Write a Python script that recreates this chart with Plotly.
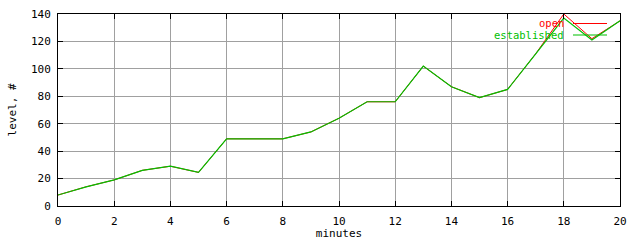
import plotly.graph_objects as go

minutes = list(range(0, 21))
open_level = [8, 14, 19, 26, 29, 24.5, 49, 49, 49, 54, 64, 76, 76, 102, 87, 79, 85, 111, 140, 122, 135]
established_level = [8, 14, 19, 26, 29, 24.5, 49, 49, 49, 54, 64, 76, 76, 102, 87, 79, 85, 111, 137, 121, 135]
series_names = ["open", "established"]
series_colors = ["#ff0000", "#00c000"]
series_widths = [1, 1.2]

FONT = "DejaVu Sans Mono"
W, H = 640, 240
ML, MR, MT, MB = 58, 20, 14, 34
PW, PH = W - ML - MR, H - MT - MB

fig = go.Figure()
for name, vals, col, lw in zip(series_names, [open_level, established_level], series_colors, series_widths):
    fig.add_trace(go.Scatter(x=minutes, y=vals, mode="lines", name=name,
                             line=dict(color=col, width=lw), showlegend=False))

axis_common = dict(
    showline=True, linecolor="black", linewidth=1, mirror="ticks",
    ticks="inside", ticklen=5, tickcolor="black", tickwidth=1,
    showgrid=True, gridcolor="#a0a0a0", gridwidth=1, zeroline=False,
    tickfont=dict(family=FONT, size=11, color="black"), automargin=False,
)
fig.update_xaxes(range=[0, 20], dtick=2, tick0=0, ticklabelstandoff=5,
                 title=dict(text="minutes", font=dict(family=FONT, size=11, color="black"), standoff=6),
                 **axis_common)
fig.update_yaxes(range=[0, 140], dtick=20, tick0=0, ticklabelstandoff=4,
                 title=dict(text="level, #", font=dict(family=FONT, size=11, color="black"), standoff=12),
                 **axis_common)

def px(x):
    return (x - ML) / PW

def py(y):
    return (H - MB - y) / PH

legend_rows = [23, 34.5]
for name, col, yy in zip(series_names, series_colors, legend_rows):
    fig.add_annotation(x=px(565), y=py(yy), xref="paper", yref="paper", text=name,
                       showarrow=False, xanchor="right", yanchor="middle", borderpad=0,
                       font=dict(family=FONT, size=10.5, color=col))
    fig.add_shape(type="line", xref="paper", yref="paper", layer="above",
                  x0=px(573), x1=px(607), y0=py(yy + 0.5), y1=py(yy + 0.5),
                  line=dict(color=col, width=1.2))

fig.update_layout(width=W, height=H, margin=dict(l=ML, r=MR, t=MT, b=MB, autoexpand=False),
                  paper_bgcolor="white", plot_bgcolor="white", showlegend=False)
fig.write_html("out.html")
